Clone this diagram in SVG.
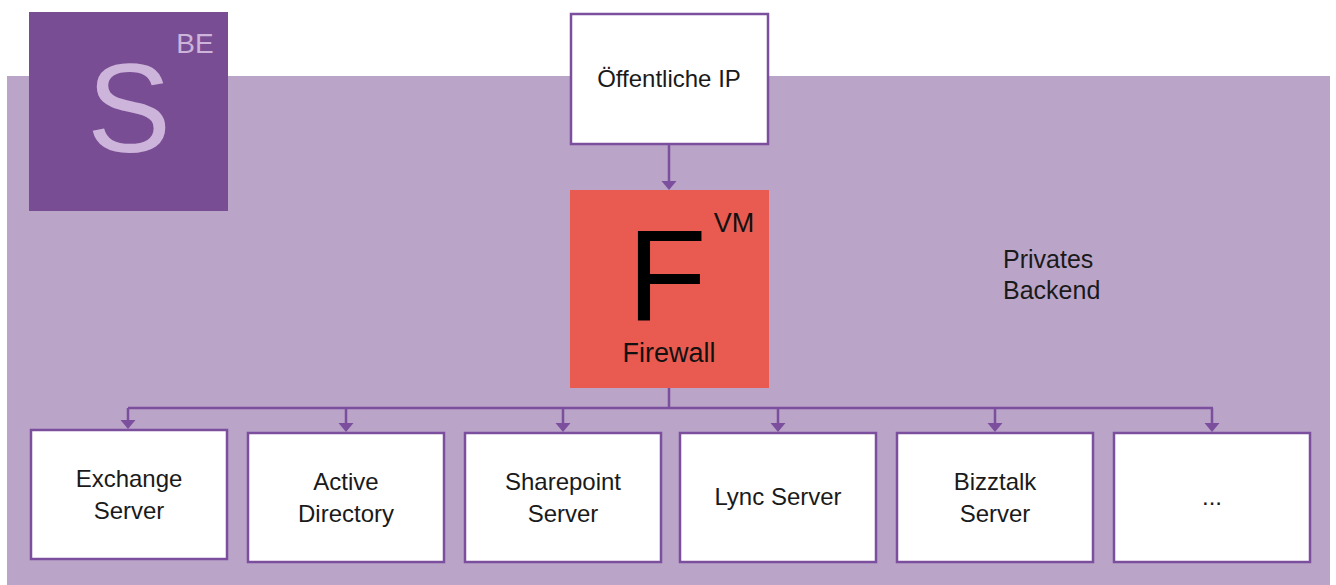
<svg xmlns="http://www.w3.org/2000/svg" width="1336" height="585" viewBox="0 0 1336 585">
<style>
.box{fill:#ffffff;stroke:#7B4F9E;stroke-width:2.5}
.t{font-family:"Liberation Sans",Arial,sans-serif;font-size:24px;fill:#1a1a1a;text-anchor:middle}
.c{fill:none;stroke:#7B4F9E;stroke-width:2.5}
.h{fill:#7B4F9E}
</style>
<defs>
<path id="head" d="M-7.5,0 L7.5,0 L0,9 Z"/>
</defs>
<rect x="0" y="0" width="1336" height="585" fill="#ffffff"/>
<rect x="7" y="76" width="1323" height="509" fill="#BAA5C9"/>
<g id="logo">
<rect x="29" y="12" width="199" height="199" fill="#784D94"/>
<text x="129" y="152" font-family="Liberation Sans,Arial,sans-serif" font-size="126" fill="#CDB4DA" text-anchor="middle">S</text>
<text x="195" y="53" font-family="Liberation Sans,Arial,sans-serif" font-size="28" fill="#CDB4DA" text-anchor="middle">BE</text>
</g>
<g id="privates">
<text x="1003" y="268" font-family="Liberation Sans,Arial,sans-serif" font-size="25" fill="#1a1a1a">Privates</text>
<text x="1003" y="299" font-family="Liberation Sans,Arial,sans-serif" font-size="25" fill="#1a1a1a">Backend</text>
</g>
<g id="connectors">
<path class="c" d="M669,144 V182"/>
<use href="#head" class="h" x="669" y="181"/>
<path class="c" d="M669,388 V408"/>
<path class="c" d="M128,408 H1213"/>
<path class="c" d="M128,408 V420"/>
<use href="#head" class="h" x="128" y="420"/>
<path class="c" d="M346,408 V423"/>
<use href="#head" class="h" x="346" y="423"/>
<path class="c" d="M563,408 V423"/>
<use href="#head" class="h" x="563" y="423"/>
<path class="c" d="M778,408 V423"/>
<use href="#head" class="h" x="778" y="423"/>
<path class="c" d="M995,408 V423"/>
<use href="#head" class="h" x="995" y="423"/>
<path class="c" d="M1212,408 V423"/>
<use href="#head" class="h" x="1212" y="423"/>
</g>
<g id="public-ip">
<rect class="box" x="571" y="14" width="197" height="130"/>
<text class="t" x="669" y="87">Öffentliche IP</text>
</g>
<g id="firewall">
<rect x="570" y="190" width="199" height="198" fill="#E95B50"/>
<text x="667" y="320" font-family="Liberation Sans,Arial,sans-serif" font-size="130" fill="#000" text-anchor="middle">F</text>
<text x="734" y="232" font-family="Liberation Sans,Arial,sans-serif" font-size="27" fill="#111" text-anchor="middle">VM</text>
<text x="669" y="362" font-family="Liberation Sans,Arial,sans-serif" font-size="27" fill="#111" text-anchor="middle">Firewall</text>
</g>
<g id="exchange">
<rect class="box" x="31" y="430" width="196" height="129"/>
<text class="t" x="129" y="487">Exchange</text>
<text class="t" x="129" y="519">Server</text>
</g>
<g id="active-directory">
<rect class="box" x="248" y="433" width="196" height="129"/>
<text class="t" x="346" y="490">Active</text>
<text class="t" x="346" y="522">Directory</text>
</g>
<g id="sharepoint">
<rect class="box" x="465" y="433" width="196" height="129"/>
<text class="t" x="563" y="490">Sharepoint</text>
<text class="t" x="563" y="522">Server</text>
</g>
<g id="lync">
<rect class="box" x="680" y="433" width="196" height="129"/>
<text class="t" x="778" y="505">Lync Server</text>
</g>
<g id="bizztalk">
<rect class="box" x="897" y="433" width="196" height="129"/>
<text class="t" x="995" y="490">Bizztalk</text>
<text class="t" x="995" y="522">Server</text>
</g>
<g id="more">
<rect class="box" x="1114" y="433" width="196" height="129"/>
<text class="t" x="1212" y="505">...</text>
</g>
</svg>
